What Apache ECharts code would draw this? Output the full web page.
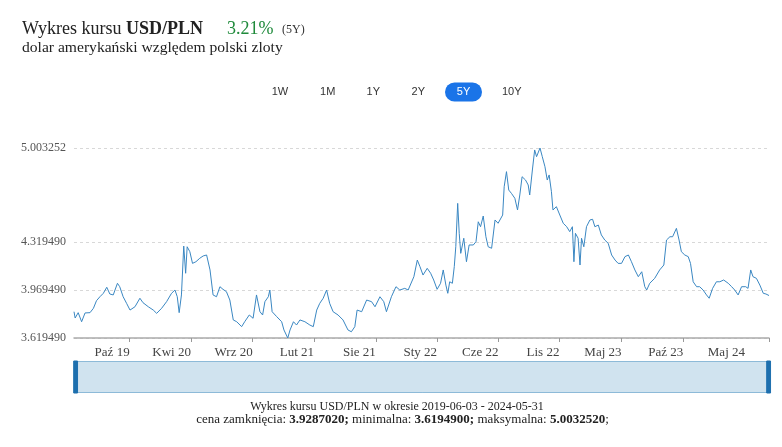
<!DOCTYPE html>
<html><head><meta charset="utf-8">
<script src="https://cdn.jsdelivr.net/npm/echarts@6/dist/echarts.min.js"></script>
<style>html,body{margin:0;padding:0;background:#fff}#c{width:782px;height:447px}</style>
</head><body><div id="c"></div>
<script>
const dates = [
'2019-06-03','2019-06-06','2019-06-14','2019-06-23','2019-07-02','2019-07-15','2019-07-24','2019-08-01','2019-08-10','2019-08-19',
'2019-08-28','2019-09-05','2019-09-14','2019-09-25','2019-10-01','2019-10-10','2019-10-19','2019-10-28','2019-11-10','2019-11-23',
'2019-12-01','2019-12-15','2019-12-28','2020-01-06','2020-01-19','2020-02-01','2020-02-14','2020-02-23','2020-02-29','2020-03-05',
'2020-03-11','2020-03-17','2020-03-22','2020-03-26','2020-04-02','2020-04-09','2020-04-18','2020-04-28','2020-05-07','2020-05-16',
'2020-05-25','2020-06-02','2020-06-11','2020-06-20','2020-06-28','2020-07-07','2020-07-16','2020-07-25','2020-08-03','2020-08-16',
'2020-08-24','2020-09-05','2020-09-15','2020-09-24','2020-10-03','2020-10-10','2020-10-16','2020-10-25','2020-10-29','2020-11-04',
'2020-11-16','2020-11-29','2020-12-05','2020-12-15','2020-12-21','2020-12-30','2021-01-07','2021-01-16','2021-01-29','2021-02-11',
'2021-02-20','2021-03-01','2021-03-09','2021-03-18','2021-03-27','2021-04-04','2021-04-13','2021-04-26','2021-05-09','2021-05-22',
'2021-05-31','2021-06-09','2021-06-15','2021-06-27','2021-07-10','2021-07-23','2021-08-01','2021-08-14','2021-08-24','2021-08-31',
'2021-09-13','2021-09-25','2021-10-05','2021-10-18','2021-10-27','2021-10-31','2021-11-11','2021-11-20','2021-11-27','2021-12-05',
'2021-12-16','2021-12-25','2022-01-02','2022-01-11','2022-01-20','2022-01-27','2022-02-03','2022-02-08','2022-02-13','2022-02-20',
'2022-02-25','2022-03-01','2022-03-06','2022-03-10','2022-03-14','2022-03-22','2022-03-29','2022-04-05','2022-04-16','2022-04-23',
'2022-04-29','2022-05-05','2022-05-12','2022-05-19','2022-05-25','2022-06-03','2022-06-12','2022-06-20','2022-07-02','2022-07-06',
'2022-07-12','2022-07-18','2022-07-25','2022-08-03','2022-08-10','2022-08-16','2022-08-22','2022-08-31','2022-09-07','2022-09-11',
'2022-09-18','2022-09-24','2022-09-29','2022-10-08','2022-10-14','2022-10-21','2022-10-27','2022-11-01','2022-11-07','2022-11-11',
'2022-11-20','2022-11-29','2022-12-08','2022-12-17','2022-12-25','2023-01-01','2023-01-05','2023-01-09','2023-01-16','2023-01-21',
'2023-01-25','2023-01-31','2023-02-07','2023-02-16','2023-02-23','2023-03-01','2023-03-10','2023-03-18','2023-03-27','2023-04-05',
'2023-04-14','2023-04-23','2023-05-01','2023-05-10','2023-05-19','2023-05-28','2023-06-05','2023-06-14','2023-06-23','2023-07-02',
'2023-07-10','2023-07-15','2023-07-23','2023-08-05','2023-08-18','2023-08-29','2023-09-05','2023-09-14','2023-09-21','2023-10-01',
'2023-10-08','2023-10-14','2023-10-23','2023-11-01','2023-11-07','2023-11-14','2023-11-23','2023-12-01','2023-12-10','2023-12-19',
'2023-12-26','2024-01-04','2024-01-14','2024-01-23','2024-02-02','2024-02-14','2024-02-23','2024-03-02','2024-03-11','2024-03-20',
'2024-03-31','2024-04-06','2024-04-13','2024-04-19','2024-04-28','2024-05-07','2024-05-16','2024-05-23','2024-05-31'
];
const values = [
3.811,3.765,3.804,3.738,3.802,3.804,3.836,3.891,3.920,3.945,
3.989,3.940,3.933,4.018,3.993,3.920,3.872,3.823,3.847,3.909,
3.877,3.847,3.823,3.799,3.836,3.884,3.945,3.969,3.920,3.804,
3.933,4.289,4.091,4.284,4.248,4.163,4.175,4.200,4.217,4.224,
4.115,3.933,3.920,3.993,3.974,3.957,3.896,3.751,3.738,3.702,
3.738,3.787,3.763,3.933,3.811,3.787,3.884,3.920,3.969,3.811,
3.775,3.738,3.678,3.6195,3.678,3.738,3.714,3.751,3.738,3.714,
3.702,3.823,3.872,3.909,3.969,3.872,3.811,3.787,3.751,3.678,
3.665,3.702,3.823,3.811,3.896,3.884,3.847,3.920,3.884,3.811,
3.920,3.993,3.969,3.981,3.969,3.969,4.066,4.187,4.139,4.078,
4.127,4.091,4.042,3.974,4.018,4.115,4.005,3.945,4.029,4.018,
4.139,4.284,4.600,4.382,4.236,4.346,4.175,4.297,4.297,4.321,
4.466,4.430,4.508,4.357,4.284,4.273,4.479,4.455,4.515,4.721,
4.831,4.697,4.673,4.637,4.552,4.661,4.794,4.770,4.734,4.661,
4.843,4.989,4.940,5.003252,4.940,4.867,4.770,4.807,4.685,4.552,
4.576,4.515,4.455,4.430,4.394,4.430,4.175,4.382,4.346,4.151,
4.346,4.284,4.430,4.479,4.484,4.430,4.442,4.370,4.333,4.309,
4.224,4.187,4.163,4.163,4.212,4.224,4.175,4.115,4.066,4.102,
3.993,3.969,4.018,4.054,4.115,4.151,4.333,4.357,4.357,4.418,
4.333,4.248,4.224,4.212,4.163,4.029,3.993,3.993,3.969,3.933,
3.909,3.981,4.029,4.029,4.042,4.018,3.993,3.969,3.933,3.993,
3.993,3.981,4.115,4.066,4.054,4.005,3.945,3.940,3.9287
];
const yTickValues = [3.61949, 3.96949, 4.31949, 5.003252];
const xLabelDates = ['2019-10-27','2020-04-05','2020-09-14','2021-02-22','2021-08-03','2022-01-11','2022-06-21','2022-11-28','2023-05-10','2023-10-19','2024-03-29'];
const xLabelTexts = ['Paź 19','Kwi 20','Wrz 20','Lut 21','Sie 21','Sty 22','Cze 22','Lis 22','Maj 23','Paź 23','Maj 24'];
const xTickDates = ['2019-10-27','2020-04-05','2020-09-14','2021-02-22','2021-08-03','2022-01-11','2022-06-21','2022-11-28','2023-05-10','2023-10-19','2024-05-31'];
const rangeButtons = ['1W','1M','1Y','2Y','5Y','10Y'];
const activeButton = '5Y';
const startDate = '2019-06-03', endDate = '2024-05-31';
const changePct = '3.21%';
const closeText = '3.9287020', minText = '3.6194900', maxText = '5.0032520';

function toTs(s){const p=s.split('-').map(Number);return Date.UTC(p[0],p[1]-1,p[2]);}
const seriesData = dates.map((d,i)=>[toTs(d), values[i]]);
const labelTs = xLabelDates.map(toTs);

const SERIF = '"Liberation Serif", "DejaVu Serif", serif';
const SANS = '"Liberation Sans", Arial, sans-serif';
const btnX = [280, 327.7, 373.3, 418.3, 463.5, 511.7];

const graphics = [
  {type:'text', x:22, y:29, style:{text:'{a|Wykres kursu }{b|USD/PLN}', verticalAlign:'middle', textVerticalAlign:'middle',
    rich:{a:{fontFamily:SERIF,fontSize:18,fill:'#222',color:'#222'}, b:{fontFamily:SERIF,fontSize:18,fontWeight:'bold',fill:'#222',color:'#222'}}}},
  {type:'text', x:227, y:29, style:{text:changePct, font:'18px '+SERIF, fill:'#1f8a3b', verticalAlign:'middle', textVerticalAlign:'middle'}},
  {type:'text', x:282, y:30, style:{text:'(5Y)', font:'12px '+SERIF, fill:'#333', verticalAlign:'middle', textVerticalAlign:'middle'}},
  {type:'text', x:22, y:48, style:{text:'dolar amerykański względem polski zloty', font:'15.6px '+SERIF, fill:'#222', verticalAlign:'middle', textVerticalAlign:'middle'}},
  {type:'text', x:397, y:407, style:{text:'Wykres kursu USD/PLN w okresie '+startDate+' - '+endDate, font:'12px '+SERIF, fill:'#222', align:'center', textAlign:'center', verticalAlign:'middle', textVerticalAlign:'middle'}},
  {type:'text', x:402.5, y:420, style:{text:'{r|cena zamknięcia: }{b|'+closeText+';}{r| minimalna: }{b|'+minText+';}{r| maksymalna: }{b|'+maxText+'}{r|;}',
    align:'center', textAlign:'center', verticalAlign:'middle', textVerticalAlign:'middle',
    rich:{r:{fontFamily:SERIF,fontSize:13,fill:'#222',color:'#222'}, b:{fontFamily:SERIF,fontSize:13,fontWeight:'bold',fill:'#222',color:'#222'}}}}
];
rangeButtons.forEach((b,i)=>{
  const act = b===activeButton;
  if (act) graphics.push({type:'rect', shape:{x:btnX[i]-18.5, y:82.5, width:37, height:19, r:9.5}, style:{fill:'#1a74e8'}});
  graphics.push({type:'text', x:btnX[i], y:92, style:{text:b, font:'11px '+SANS, fill: act?'#fff':'#333', align:'center', textAlign:'center', verticalAlign:'middle', textVerticalAlign:'middle'}});
});

const chart = echarts.init(document.getElementById('c'), null, {renderer:'canvas'});
chart.setOption({
  animation:false,
  grid:{left:74, right:13, top:148, bottom:109},
  xAxis:{
    type:'value', min:toTs(startDate), max:toTs(endDate),
    axisLine:{show:true, lineStyle:{color:'#aaa', width:1.5}},
    axisTick:{show:true, length:4, lineStyle:{color:'#999'}, customValues: xTickDates.map(toTs)},
    axisLabel:{customValues: labelTs, align:'right', margin:8, fontFamily:SERIF, fontSize:13, color:'#444',
      formatter:function(v){let best=0,bd=Infinity;labelTs.forEach((t,i)=>{const d=Math.abs(t-v);if(d<bd){bd=d;best=i;}});return xLabelTexts[best];}},
    splitLine:{show:false}
  },
  yAxis:{
    type:'value', min:yTickValues[0], max:yTickValues[yTickValues.length-1],
    axisLine:{show:false},
    axisTick:{show:false, customValues:yTickValues},
    axisLabel:{customValues:yTickValues, margin:8, fontFamily:SERIF, fontSize:12, color:'#555', formatter:v=>v.toFixed(6)},
    splitLine:{show:true, lineStyle:{color:'#d8d8d8', type:[3,3], width:1}}
  },
  dataZoom:[{type:'slider', xAxisIndex:0, start:0, end:100, left:74, right:13, top:361, height:32,
    showDetail:false, showDataShadow:false, brushSelect:false, moveHandleSize:0,
    backgroundColor:'rgba(208,227,239,1)', fillerColor:'rgba(208,227,239,1)', borderColor:'#8dbad8', borderRadius:0,
    handleIcon:'path://M0,0h12v100h-12z', handleSize:'100%',
    handleStyle:{color:'#1d6fae', borderColor:'#1d6fae'},
    emphasis:{handleStyle:{color:'#1d6fae', borderColor:'#1d6fae'}},
    dataBackground:{lineStyle:{opacity:0}, areaStyle:{opacity:0}},
    selectedDataBackground:{lineStyle:{opacity:0}, areaStyle:{opacity:0}},
    filterMode:'none'
  }],
  series:[{type:'line', data:seriesData, showSymbol:false, symbol:'none', smooth:false,
    lineStyle:{color:'#3a87c2', width:1}, itemStyle:{color:'#3a87c2'}}],
  graphic: graphics
});
</script></body></html>
